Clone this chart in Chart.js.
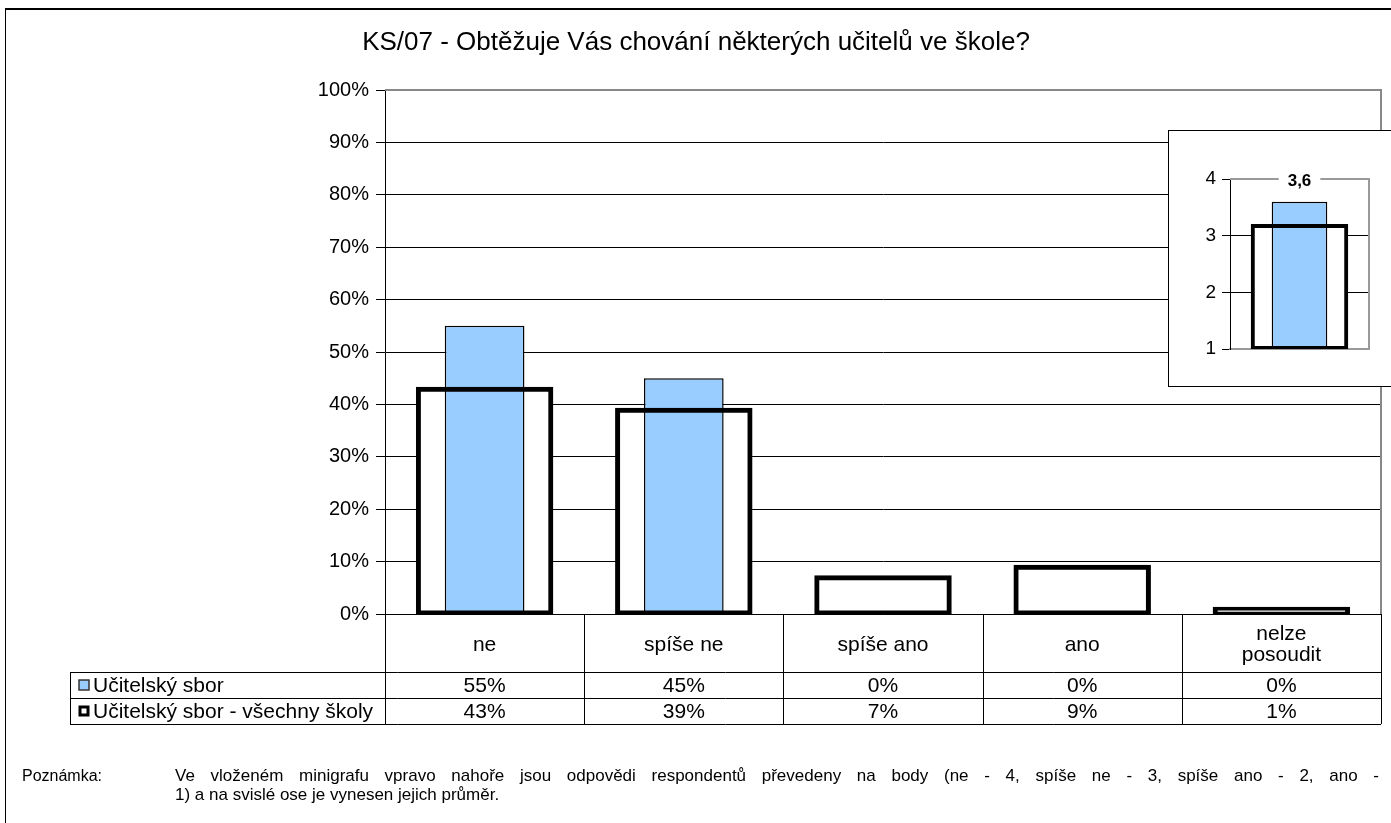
<!DOCTYPE html>
<html lang="cs">
<head>
    <meta charset="UTF-8">
    <title>KS/07</title>
    <style>
        html, body { margin: 0; padding: 0; background: #fff; }
        body { width: 1391px; height: 823px; position: relative; overflow: hidden; font-family: "Liberation Sans", Arial, sans-serif; }
        .frame { position: absolute; left: 5px; top: 8px; width: 1400px; height: 830px; border-left: 1.5px solid #000; border-top: 2px solid #000; }
        .main { position: absolute; left: 0; top: 0; width: 1391px; height: 823px; }
        .inset { position: absolute; left: 1168px; top: 130px; width: 240px; height: 255px; background: #fff; border: 1px solid #000; }
        .note { position: absolute; top: 766px; font-size: 17px; line-height: 19px; color: #000; }
        .note .l1 { display: block; text-align: justify; text-align-last: justify; }
    </style>
</head>
<body>
    <div class="frame"></div>
    <div class="main"><canvas id="mainChart" width="1391" height="823"></canvas></div>
    <div class="inset"><canvas id="miniChart" width="240" height="255"></canvas></div>
    <div class="note" style="left:22px; font-size:16px">Poznámka:</div>
    <div class="note" style="left:175px; width:1204px"><span class="l1">Ve vloženém minigrafu vpravo nahoře jsou odpovědi respondentů převedeny na body (ne - 4, spíše ne - 3, spíše ano - 2, ano -</span>1) a na svislé ose je vynesen jejich průměr.</div>

    <script src="https://cdn.jsdelivr.net/npm/chart.js"></script>
    <script>
        const title = 'KS/07 - Obtěžuje Vás chování některých učitelů ve škole?';
        const categories = ['ne', 'spíše ne', 'spíše ano', 'ano', ['nelze', 'posoudit']];
        const seriesNames = ['Učitelský sbor', 'Učitelský sbor - všechny školy'];
        const schoolValues = [55, 45, 0, 0, 0];
        const allSchoolsValues = [43, 39, 7, 9, 1];
        const yTicks = [0, 10, 20, 30, 40, 50, 60, 70, 80, 90, 100];

        // minigraph: mean of points (ne 4 ... ano 1)
        const miniSchool = [3.6];
        const miniAllSchools = [3.18];
        const miniTicks = [1, 2, 3, 4];

        const FONT = '"Liberation Sans", Arial, sans-serif';
        const BLUE = '#99ccff';

        // title + data table under the x axis
        const tablePlugin = {
            id: 'tablePlugin',
            afterDraw(chart) {
                const ctx = chart.ctx;
                const x = chart.scales.x;
                const area = chart.chartArea;
                const left = 70, rowTop = 672, rowH = 26;
                const rows = [schoolValues, allSchoolsValues];

                ctx.save();
                ctx.fillStyle = '#000';
                ctx.font = '26px ' + FONT;
                ctx.textAlign = 'center';
                ctx.textBaseline = 'middle';
                ctx.fillText(title, 696, 43);

                ctx.strokeStyle = '#000';
                ctx.lineWidth = 1;
                for (let r = 0; r <= rows.length; r++) {
                    const y = Math.round(rowTop + r * rowH) + 0.5;
                    ctx.beginPath();
                    ctx.moveTo(left, y);
                    ctx.lineTo(area.right, y);
                    ctx.stroke();
                }
                const step = x.getPixelForValue(1) - x.getPixelForValue(0);
                const bounds = [area.left];
                for (let i = 0; i < categories.length; i++) {
                    bounds.push(x.getPixelForValue(i) + step / 2);
                }
                bounds.forEach(b => {
                    ctx.beginPath();
                    ctx.moveTo(Math.round(b) + 0.5, area.bottom);
                    ctx.lineTo(Math.round(b) + 0.5, rowTop + rows.length * rowH);
                    ctx.stroke();
                });
                ctx.beginPath();
                ctx.moveTo(left + 0.5, rowTop);
                ctx.lineTo(left + 0.5, rowTop + rows.length * rowH);
                ctx.stroke();

                ctx.font = '21px ' + FONT;
                rows.forEach((vals, r) => {
                    const cy = rowTop + r * rowH + rowH / 2 + 1;
                    ctx.fillStyle = '#000';
                    ctx.textAlign = 'center';
                    vals.forEach((v, i) => {
                        ctx.fillText(v + '%', x.getPixelForValue(i), cy);
                    });
                    // legend key
                    const ky = Math.round(cy - 6);
                    if (r === 0) {
                        ctx.fillStyle = BLUE;
                        ctx.fillRect(79, ky, 10, 10);
                        ctx.strokeStyle = '#333';
                        ctx.lineWidth = 1.5;
                        ctx.strokeRect(79, ky, 10, 10);
                    } else {
                        ctx.fillStyle = '#fff';
                        ctx.fillRect(79, ky, 10, 10);
                        ctx.strokeStyle = '#000';
                        ctx.lineWidth = 3;
                        ctx.strokeRect(80, ky + 1, 8, 8);
                    }
                    ctx.fillStyle = '#000';
                    ctx.textAlign = 'left';
                    ctx.fillText(seriesNames[r], 93, cy);
                });
                ctx.restore();
            }
        };

        // gray frame of the plot area (top and right)
        const plotFrame = {
            id: 'plotFrame',
            beforeDatasetsDraw(chart, args, opts) {
                const a = chart.chartArea, ctx = chart.ctx;
                ctx.save();
                ctx.strokeStyle = opts.color;
                ctx.lineWidth = opts.width;
                ctx.beginPath();
                ctx.moveTo(a.left, a.top);
                ctx.lineTo(a.right, a.top);
                ctx.lineTo(a.right, a.bottom);
                ctx.stroke();
                ctx.restore();
            }
        };

        // label "3,6" over the top of the minigraph
        const miniLabel = {
            id: 'miniLabel',
            afterDraw(chart) {
                const ctx = chart.ctx, a = chart.chartArea;
                const txt = miniSchool[0].toFixed(1).replace('.', ',');
                ctx.save();
                ctx.font = 'bold 17px ' + FONT;
                const w = ctx.measureText(txt).width;
                const cx = (a.left + a.right) / 2;
                ctx.fillStyle = '#fff';
                ctx.fillRect(cx - w / 2 - 9, a.top - 10, w + 18, 20);
                ctx.fillStyle = '#000';
                ctx.textAlign = 'center';
                ctx.textBaseline = 'middle';
                ctx.fillText(txt, cx, a.top + 2);
                ctx.restore();
            }
        };

        Chart.defaults.font.family = FONT;
        Chart.defaults.color = '#000';

        new Chart(document.getElementById('mainChart'), {
            type: 'bar',
            data: {
                labels: categories,
                datasets: [
                    {
                        label: seriesNames[1] + ' (fill)',
                        data: allSchoolsValues,
                        backgroundColor: '#fff',
                        borderWidth: 0,
                        grouped: false,
                        categoryPercentage: 1,
                        barPercentage: 0.67,
                        order: 3
                    },
                    {
                        label: seriesNames[0],
                        data: schoolValues,
                        backgroundColor: BLUE,
                        borderColor: '#000',
                        borderWidth: 1.5,
                        grouped: false,
                        categoryPercentage: 1,
                        barPercentage: 0.40,
                        order: 2
                    },
                    {
                        label: seriesNames[1],
                        data: allSchoolsValues,
                        backgroundColor: 'rgba(0,0,0,0)',
                        borderColor: '#000',
                        borderWidth: 1,
                        borderSkipped: false,
                        inflateAmount: 2,
                        grouped: false,
                        categoryPercentage: 1,
                        barPercentage: 0.67,
                        order: 1
                    }
                ]
            },
            options: {
                responsive: false,
                animation: false,
                devicePixelRatio: 1,
                layout: { padding: { top: 90, left: 0, right: 10, bottom: 0 } },
                plugins: {
                    legend: { display: false },
                    tooltip: { enabled: false },
                    plotFrame: { color: '#888', width: 2 }
                },
                scales: {
                    x: {
                        grid: { display: false, drawTicks: false },
                        border: { color: '#000', width: 1 },
                        ticks: { font: { size: 21, lineHeight: 1.02 }, padding: 20, crossAlign: 'center', maxRotation: 0, autoSkip: false },
                        afterFit(scale) { scale.height = 209; }
                    },
                    y: {
                        min: 0,
                        max: 100,
                        afterBuildTicks(scale) { scale.ticks = yTicks.map(v => ({ value: v })); },
                        grid: { color: '#000', lineWidth: 1, tickLength: 9, drawTicks: true },
                        border: { color: '#000', width: 1 },
                        ticks: { font: { size: 20 }, padding: 7, callback: v => v + '%' },
                        afterFit(scale) { scale.width = 385; }
                    }
                }
            },
            plugins: [plotFrame, tablePlugin]
        });

        new Chart(document.getElementById('miniChart'), {
            type: 'bar',
            data: {
                labels: [''],
                datasets: [
                    {
                        data: miniAllSchools,
                        backgroundColor: '#fff',
                        borderWidth: 0,
                        grouped: false,
                        base: 1,
                        categoryPercentage: 1,
                        barPercentage: 0.68,
                        order: 3
                    },
                    {
                        data: miniSchool,
                        backgroundColor: BLUE,
                        borderColor: '#000',
                        borderWidth: 1.5,
                        grouped: false,
                        base: 1,
                        categoryPercentage: 1,
                        barPercentage: 0.40,
                        order: 2
                    },
                    {
                        data: miniAllSchools,
                        backgroundColor: 'rgba(0,0,0,0)',
                        borderColor: '#000',
                        borderWidth: 1,
                        borderSkipped: false,
                        inflateAmount: 1.5,
                        grouped: false,
                        base: 1,
                        categoryPercentage: 1,
                        barPercentage: 0.68,
                        order: 1
                    }
                ]
            },
            options: {
                responsive: false,
                animation: false,
                devicePixelRatio: 1,
                layout: { padding: { top: 48, left: 0, right: 40, bottom: 0 } },
                plugins: {
                    legend: { display: false },
                    tooltip: { enabled: false },
                    plotFrame: { color: '#999', width: 2 }
                },
                scales: {
                    x: {
                        grid: { display: false, drawTicks: false },
                        border: { color: '#999', width: 2 },
                        ticks: { display: false },
                        afterFit(scale) { scale.height = 37; }
                    },
                    y: {
                        min: 1,
                        max: 4,
                        afterBuildTicks(scale) { scale.ticks = miniTicks.map(v => ({ value: v })); },
                        grid: { color: '#000', lineWidth: 1, tickLength: 8 },
                        border: { color: '#000', width: 1 },
                        ticks: { font: { size: 19 }, padding: 6 },
                        afterFit(scale) { scale.width = 61; }
                    }
                }
            },
            plugins: [plotFrame, miniLabel]
        });
    </script>
</body>
</html>
